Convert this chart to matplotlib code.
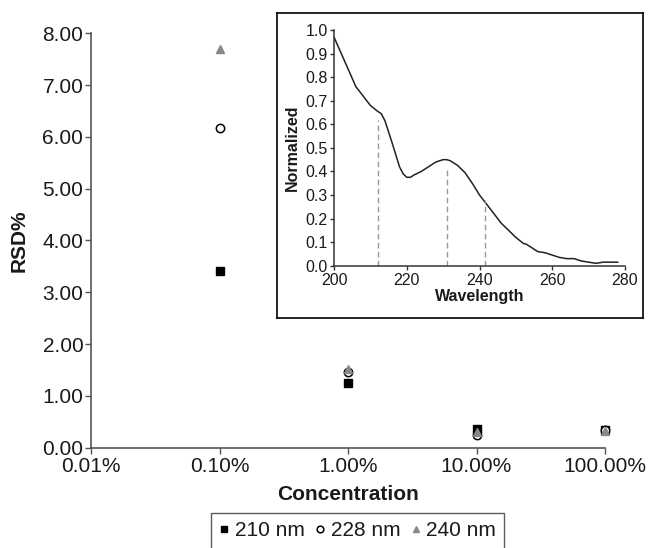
import matplotlib
matplotlib.use("Agg")
import matplotlib.pyplot as plt
from matplotlib.ticker import FixedLocator, FixedFormatter, NullLocator

plt.rcParams['font.family'] = ['Liberation Sans', 'DejaVu Sans']

# ---- main data ----
concentration = [0.1, 1.0, 10.0, 100.0]  # percent
rsd_210 = [3.42, 1.25, 0.36, 0.35]
rsd_228 = [6.17, 1.46, 0.24, 0.35]
rsd_240 = [7.70, 1.51, 0.30, 0.32]
series_labels = ["210 nm", "228 nm", "240 nm"]
x_ticks = [0.01, 0.1, 1.0, 10.0, 100.0]
x_tick_labels = ["0.01%", "0.10%", "1.00%", "10.00%", "100.00%"]
y_ticks = [0, 1, 2, 3, 4, 5, 6, 7, 8]

# ---- inset data ----
wavelength = [200, 202, 204, 206, 208, 210, 212, 213, 214, 216, 218, 219, 220, 221,
              222, 224, 226, 228, 230, 231, 232, 234, 236, 238, 240, 242, 244, 246,
              248, 250, 252, 253, 254, 256, 258, 260, 262, 264, 266, 268, 270, 272,
              274, 276, 278]
normalized = [0.97, 0.90, 0.83, 0.76, 0.72, 0.68, 0.655, 0.645, 0.615, 0.52, 0.42, 0.39,
              0.375, 0.375, 0.385, 0.40, 0.42, 0.44, 0.45, 0.45, 0.445, 0.425, 0.395,
              0.35, 0.30, 0.26, 0.22, 0.18, 0.15, 0.12, 0.095, 0.09, 0.08, 0.06, 0.055,
              0.045, 0.035, 0.03, 0.03, 0.02, 0.015, 0.01, 0.015, 0.015, 0.015]
dash_x = [212, 231, 241.5]
dash_top = [0.62, 0.42, 0.28]
inset_xticks = [200, 220, 240, 260, 280]
inset_yticks = [0.0, 0.1, 0.2, 0.3, 0.4, 0.5, 0.6, 0.7, 0.8, 0.9, 1.0]

W, H = 650, 548
fig = plt.figure(figsize=(6.5, 5.48), dpi=100)

def rect(l, t, r, b):
    return [l / W, (H - b) / H, (r - l) / W, (b - t) / H]

spine_col = "#555555"
text_col = "#1a1a1a"

ax = fig.add_axes(rect(91, 33.3, 605, 447.7))
ax.set_xscale("log")
ax.plot(concentration, rsd_210, linestyle="none", marker="s", ms=6,
        color="black", label=series_labels[0], clip_on=False)
ax.plot(concentration, rsd_228, linestyle="none", marker="o", ms=6,
        mfc="white", mec="black", mew=1.1, label=series_labels[1], clip_on=False)
ax.plot(concentration, rsd_240, linestyle="none", marker="^", ms=6,
        color="#888888", label=series_labels[2], clip_on=False)
ax.set_xlim(x_ticks[0], x_ticks[-1])
ax.set_ylim(0, 8)
ax.xaxis.set_major_locator(FixedLocator(x_ticks))
ax.xaxis.set_major_formatter(FixedFormatter(x_tick_labels))
ax.xaxis.set_minor_locator(NullLocator())
ax.set_yticks(y_ticks)
ax.set_yticklabels([f"{v:.2f}" for v in y_ticks])
for s in ["top", "right"]:
    ax.spines[s].set_visible(False)
for s in ["left", "bottom"]:
    ax.spines[s].set_color(spine_col)
    ax.spines[s].set_linewidth(1.2)
ax.tick_params(axis="both", length=4, width=1, color=spine_col, labelsize=15,
               labelcolor=text_col, direction="out")
ax.tick_params(axis="y", pad=1.5)
ax.tick_params(axis="x", pad=3)
ax.set_xlabel("Concentration", fontsize=15, fontweight="bold", color=text_col, labelpad=6)
ax.set_ylabel("RSD%", fontsize=15, fontweight="bold", color=text_col, labelpad=10)
ax.patch.set_alpha(0)

leg = fig.legend(loc="upper center", bbox_to_anchor=(357.5 / W, (H - 513) / H),
                 ncol=3, fontsize=15, frameon=True, fancybox=False,
                 handlelength=0.5, handletextpad=0.25, columnspacing=0.5,
                 markerscale=0.8, borderpad=0.4, borderaxespad=0)
leg.get_frame().set_edgecolor("#333333")
leg.get_frame().set_linewidth(1.0)
for t in leg.get_texts():
    t.set_color(text_col)

# inset frame
frame = fig.add_axes(rect(277, 13, 643, 318))
frame.set_xticks([])
frame.set_yticks([])
for s in frame.spines.values():
    s.set_color("black")
    s.set_linewidth(1.2)
frame.set_facecolor("white")

ins = fig.add_axes(rect(334, 30, 625, 265.7))
ins.plot(wavelength, normalized, color="#222222", lw=1.1)
for xv, top in zip(dash_x, dash_top):
    ins.plot([xv, xv], [0, top], color="#999999", lw=1.0, linestyle=(0, (4, 2.5)))
ins.set_xlim(200, 280)
ins.set_ylim(0, 1.0)
ins.set_xticks(inset_xticks)
ins.set_yticks(inset_yticks)
ins.set_yticklabels([f"{v:.1f}" for v in inset_yticks])
for s in ["top", "right"]:
    ins.spines[s].set_visible(False)
for s in ["left", "bottom"]:
    ins.spines[s].set_color("#333333")
    ins.spines[s].set_linewidth(1.1)
ins.tick_params(axis="both", length=3, width=1, color="#333333", labelsize=11.5,
                labelcolor=text_col, direction="out")
ins.tick_params(axis="y", pad=1.5)
ins.tick_params(axis="x", pad=2)
ins.set_xlabel("Wavelength", fontsize=11.5, fontweight="bold", color=text_col, labelpad=1)
ins.set_ylabel("Normalized", fontsize=11.5, fontweight="bold", color=text_col, labelpad=4)
ins.patch.set_alpha(0)

fig.savefig("out.png", dpi=100)
